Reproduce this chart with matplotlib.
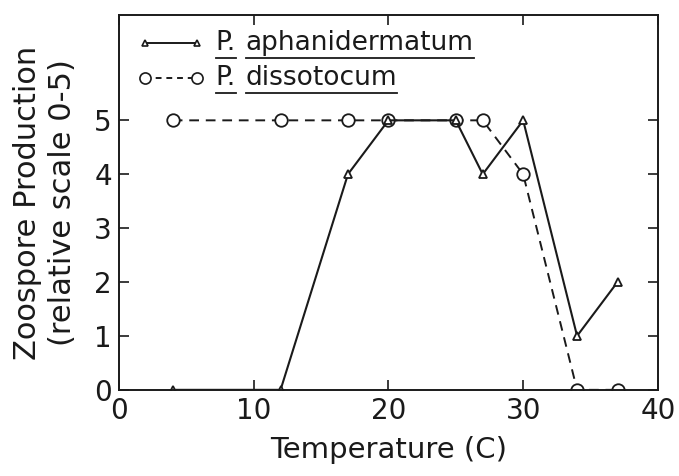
import matplotlib
matplotlib.use("Agg")
import matplotlib.pyplot as plt
from matplotlib.lines import Line2D

plt.rcParams['font.family'] = ['DejaVu Sans']

temperature = [4, 12, 17, 20, 25, 27, 30, 34, 37]
aphanidermatum = [0, 0, 4, 5, 5, 4, 5, 1, 2]
dissotocum = [5, 5, 5, 5, 5, 5, 4, 0, 0]
genus = "P."
species = ["aphanidermatum", "dissotocum"]
x_ticks = [0, 10, 20, 30, 40]
y_ticks = [0, 1, 2, 3, 4, 5]

ink = '#1a1a1a'
fig = plt.figure(figsize=(6.79, 4.76), dpi=100)
ax = fig.add_axes([0.175, 0.181, 0.794, 0.787])

ax.plot(temperature, dissotocum, ls=(0, (5, 3.5)), c=ink, lw=1.4,
        marker='o', ms=9, mfc='white', mec=ink, mew=1.3)
ax.plot(temperature, aphanidermatum, ls='-', c=ink, lw=1.5,
        marker='^', ms=6, mfc='white', mec=ink, mew=1.3)

ax.set_xlim(0, 40)
ax.set_ylim(0, 6.95)
ax.set_xticks(x_ticks)
ax.set_yticks(y_ticks)
ax.tick_params(direction='in', top=True, right=True, length=7, width=1.2,
               labelsize=20, colors=ink, pad=5)
for s in ax.spines.values():
    s.set_linewidth(1.4)
    s.set_color(ink)
ax.set_xlabel('Temperature (C)', fontsize=21, color=ink, labelpad=8)
ax.set_ylabel('Zoospore Production\n(relative scale 0-5)', fontsize=22,
              color=ink, labelpad=12, linespacing=1.3)

# hand made legend with underlined names
rows = [(0.925, dict(ls='-', marker='^', ms=5)),
        (0.832, dict(ls=(0, (3, 2.5)), marker='o', ms=8))]
fig.canvas.draw()
rend = fig.canvas.get_renderer()
inv = ax.transAxes.inverted()
for (yy, st), name in zip(rows, species):
    ax.add_line(Line2D([0.048, 0.145], [yy, yy], transform=ax.transAxes,
                       c=ink, lw=1.4, mfc='white', mec=ink, mew=1.2, **st))
    t1 = ax.text(0.180, yy, genus, transform=ax.transAxes, fontsize=19,
                 va='center', color=ink)
    t2 = ax.text(0.235, yy, name, transform=ax.transAxes, fontsize=19,
                 va='center', color=ink)
    for t in (t1, t2):
        bb = t.get_window_extent(rend)
        (x0, y0), (x1, _) = inv.transform([[bb.x0, bb.y0], [bb.x1, bb.y0]])
        ax.add_line(Line2D([x0, x1], [y0 - 0.004, y0 - 0.004],
                           transform=ax.transAxes, c=ink, lw=1.3))

fig.savefig('out.png', dpi=100)
